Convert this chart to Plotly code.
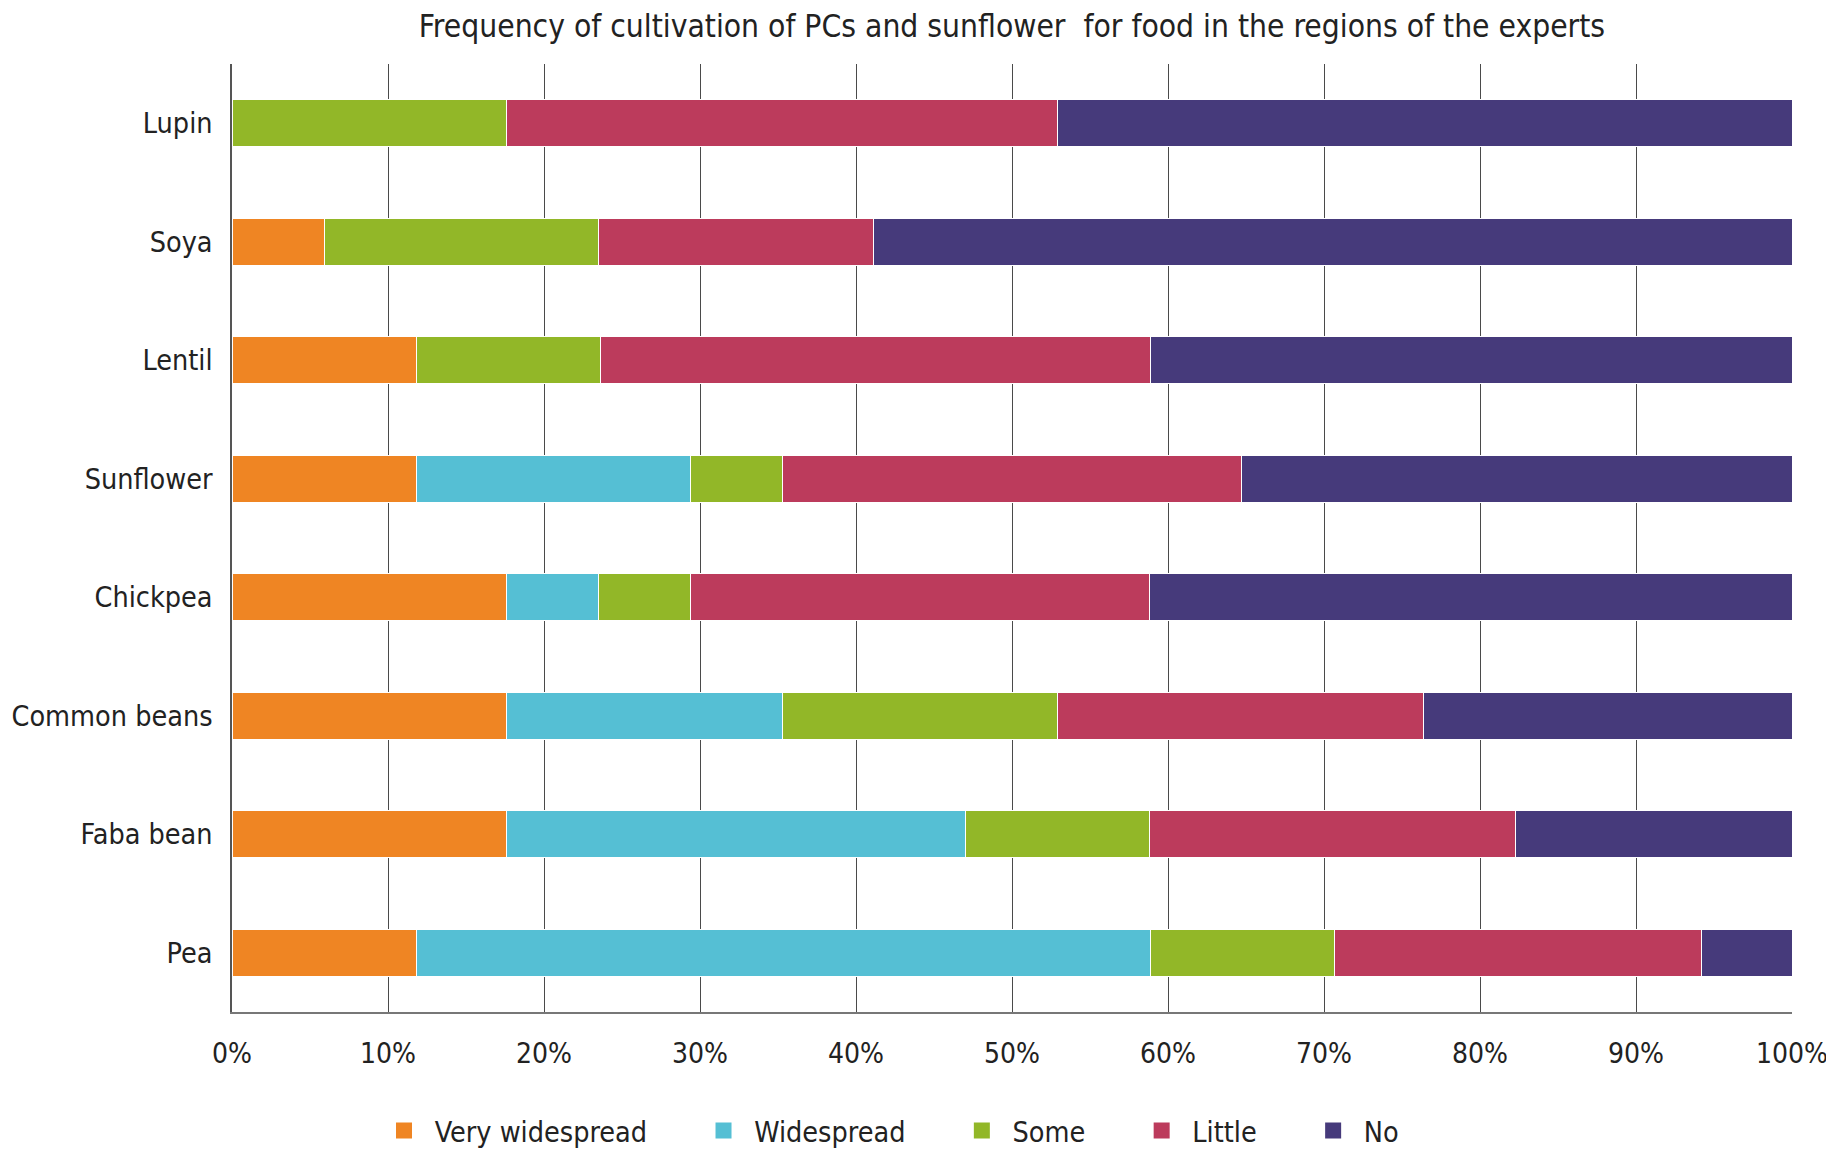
import plotly.graph_objects as go

categories = ["Pea", "Faba bean", "Common beans", "Chickpea", "Sunflower", "Lentil", "Soya", "Lupin"]
series_names = ["Very widespread", "Widespread", "Some", "Little", "No"]
very_widespread = [11.8, 17.6, 17.6, 17.6, 11.8, 11.8, 5.9, 0.0]
widespread      = [47.1, 29.4, 17.7, 5.9, 17.6, 0.0, 0.0, 0.0]
some            = [11.8, 11.8, 17.6, 5.9, 5.9, 11.8, 17.6, 17.6]
little          = [23.5, 23.5, 23.5, 29.4, 29.4, 35.3, 17.6, 35.3]
no              = [5.8, 17.7, 23.6, 41.2, 35.3, 41.1, 58.9, 47.1]
x_ticks = [0, 10, 20, 30, 40, 50, 60, 70, 80, 90, 100]
x_tick_labels = [f"{t}%" for t in x_ticks]

colors = ["#EF8523", "#55BFD4", "#92B728", "#BC3B5C", "#463A7B"]
series = [very_widespread, widespread, some, little, no]

FONT = "DejaVu Sans Condensed, Liberation Sans Narrow, sans-serif"

fig = go.Figure()
for name, vals, col in zip(series_names, series, colors):
    fig.add_trace(go.Bar(
        y=categories, x=vals, name=name, orientation="h",
        marker=dict(color=col, line=dict(color="white", width=1)),
        width=0.4, showlegend=False,
    ))
# legend entries with larger square markers
lead = "\u00a0\u200a"
pad = "\u00a0" * 6 + "\u200a"
for name, col in zip(series_names, colors):
    fig.add_trace(go.Scatter(
        x=[None], y=[None], mode="markers", name=lead + name + pad,
        marker=dict(symbol="square", size=21, color=col),
        showlegend=True,
    ))

W, H = 1834, 1151
OFF = 8  # body margin of the page

fig.update_layout(
    width=W, height=H,
    barmode="stack",
    plot_bgcolor="white", paper_bgcolor="white",
    margin=dict(l=232 - OFF, r=50, t=64 - OFF, b=147, autoexpand=False),
    font=dict(family=FONT, size=26, color="#222222"),
    title=dict(
        text="Frequency of cultivation of PCs and sunflower  for food in the regions of the experts",
        x=0.5, xref="paper", xanchor="center", y=1 - (26 - OFF) / H, yref="container", yanchor="middle",
        font=dict(family=FONT, size=31.5, color="#222222"),
    ),
    legend=dict(
        orientation="h", traceorder="normal",
        x=(398 - OFF - 14) / W, xref="container", xanchor="left",
        y=1 - (1131 - OFF) / H, yref="container", yanchor="middle",
        font=dict(family=FONT, size=28.5, color="#222222"),
        itemsizing="trace",
    ),
    xaxis=dict(
        range=[0, 100], tickvals=x_ticks, ticktext=x_tick_labels,
        showgrid=True, gridcolor="#4a4a4a", gridwidth=1.3,
        showline=True, linecolor="#777777", linewidth=2,
        zeroline=False, ticks="", ticklabelstandoff=15,
        tickfont=dict(family=FONT, size=28, color="#222222"),
        fixedrange=True, automargin=False,
    ),
    yaxis=dict(
        range=[-0.5, 7.5], showgrid=False,
        showline=True, linecolor="#555555", linewidth=1.5,
        ticks="", ticklabelstandoff=12,
        tickfont=dict(family=FONT, size=28.5, color="#222222"),
        zeroline=False, automargin=False,
    ),
)

fig.write_html("out.html")
